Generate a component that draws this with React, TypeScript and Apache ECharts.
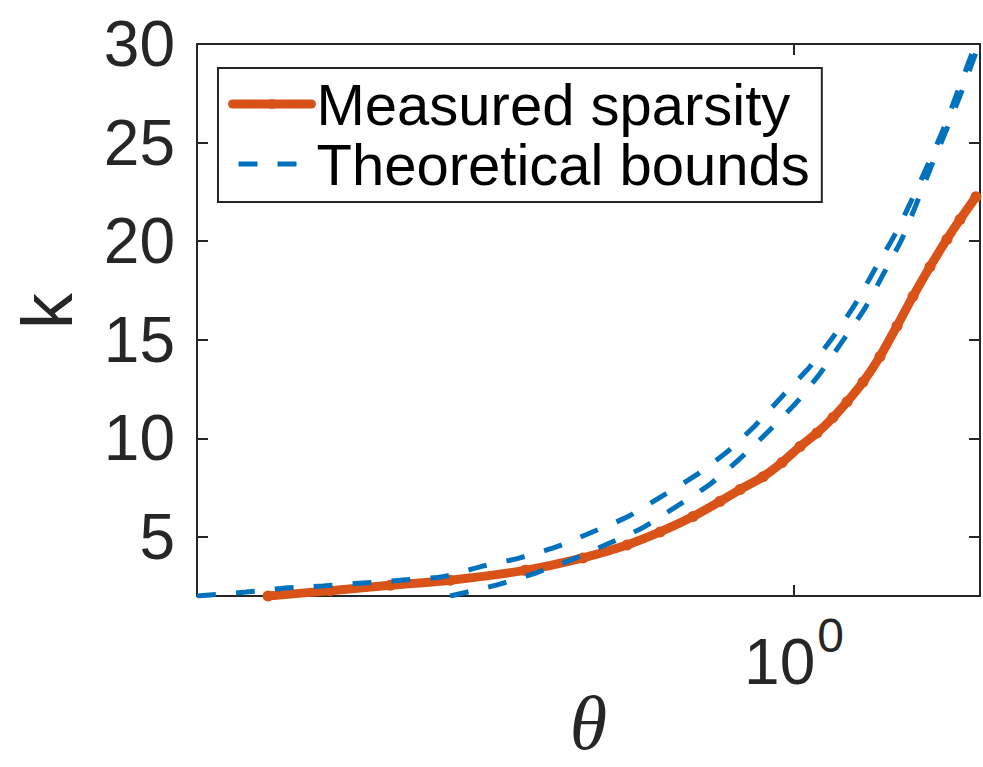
import React, { useEffect, useRef } from 'react';
import * as echarts from 'echarts';

// Measured sparsity (orange, solid with dots)
const thetaMeasured = [0.1409, 0.1775, 0.2220, 0.2776, 0.3670, 0.4555, 0.5368, 0.6071, 0.6864, 0.7590, 0.8177, 0.8909, 0.9563, 1.0226, 1.0895, 1.1563, 1.2187, 1.2933, 1.3778, 1.4681, 1.5582, 1.6600, 1.7684, 1.8565, 1.9700];
const kMeasured = [2.0, 2.27, 2.54, 2.8, 3.3, 3.93, 4.59, 5.25, 6.03, 6.8, 7.4, 8.05, 8.77, 9.58, 10.27, 11.05, 11.85, 12.85, 14.15, 15.7, 17.2, 18.7, 20.1, 21.1, 22.25];

// Theoretical bound, upper dashed curve
const thetaBoundA = [0.1081, 0.1298, 0.1501, 0.1729, 0.2008, 0.2330, 0.2704, 0.3103, 0.3575, 0.4135, 0.4729, 0.5388, 0.6116, 0.6942, 0.7818, 0.8679, 0.9634, 1.0614, 1.1605, 1.2598, 1.3524, 1.4572, 1.5520, 1.6473, 1.7486, 1.8425, 1.9409, 1.9775];
const kBoundA = [2.0, 2.2, 2.41, 2.51, 2.66, 2.81, 2.98, 3.48, 3.91, 4.5, 5.26, 6.03, 7.07, 8.13, 9.35, 10.69, 12.23, 13.63, 15.2, 16.87, 18.59, 20.34, 22.11, 23.88, 25.76, 27.63, 29.5, 30.0];

// Theoretical bound, lower dashed curve
const thetaBoundB = [0.2776, 0.2870, 0.3319, 0.3838, 0.4389, 0.5076, 0.5696, 0.6465, 0.7312, 0.8177, 0.9111, 1.0112, 1.1057, 1.2003, 1.3028, 1.3983, 1.4952, 1.5812, 1.6661, 1.7683, 1.8631, 1.9631, 2.0];
const kBoundB = [2.0, 2.1, 2.58, 3.19, 3.87, 4.74, 5.47, 6.56, 7.67, 8.97, 10.38, 11.85, 13.35, 14.97, 16.6, 18.39, 20.11, 21.96, 23.76, 25.71, 27.5, 29.43, 30.0];

const yTicks = [5, 10, 15, 20, 25, 30];
const xTicks = [1];
const seriesNames = ['Measured sparsity', 'Theoretical bounds'];

const X_MIN = 0.1081;
const X_MAX = 2.0;
const Y_MIN = 2;
const Y_MAX = 30;

const zip = (xs: number[], ys: number[]) => xs.map((x, i) => [x, ys[i]]);

export default function App() {
  const ref = useRef<HTMLDivElement>(null);

  useEffect(() => {
    if (!ref.current) return;
    const chart = echarts.init(ref.current, null, { renderer: 'svg' });
    const AX = '#262626';
    const ORANGE = '#D95319';
    const BLUE = '#0072BD';
    const FONT = 'Liberation Sans';

    const axisLine = { show: true, onZero: false, lineStyle: { color: AX, width: 2 } };
    const axisTick = { show: true, inside: true, length: 11, lineStyle: { color: AX, width: 2 } };

    const option: any = {
      animation: false,
      backgroundColor: '#ffffff',
      grid: { left: 197, top: 44, width: 783, height: 552, show: false, containLabel: false, outerBoundsMode: 'none' },
      legend: {
        left: 218,
        top: 68,
        orient: 'vertical',
        itemWidth: 79,
        itemHeight: 12,
        itemGap: 0,
        padding: [6, 12, 8, 10],
        borderColor: AX,
        borderWidth: 2,
        borderRadius: 0,
        backgroundColor: '#ffffff',
        lineStyle: { dashOffset: 33 },
        textStyle: { fontSize: 58, fontFamily: FONT, color: '#000000', lineHeight: 60 },
        data: [
          { name: seriesNames[0], lineStyle: { width: 9, color: ORANGE }, itemStyle: { color: ORANGE } },
          { name: seriesNames[1], lineStyle: { width: 5, color: BLUE, type: [19, 20], dashOffset: 33 } },
        ],
      },
      xAxis: [
        {
          type: 'log',
          logBase: 10,
          min: X_MIN,
          max: X_MAX,
          position: 'bottom',
          axisLine,
          axisTick: { ...axisTick, customValues: xTicks },
          axisLabel: {
            customValues: xTicks,
            margin: 34,
            color: AX,
            formatter: (v: number) => (Math.abs(v - 1) < 1e-9 ? '{a|10}{b|0}' : ''),
            rich: {
              a: { fontSize: 64, fontFamily: FONT, color: AX, lineHeight: 64, verticalAlign: 'middle' },
              b: { fontSize: 48, fontFamily: FONT, color: AX, lineHeight: 48, verticalAlign: 'middle', padding: [0, 0, 54, 2] },
            },
          },
          splitLine: { show: false },
          name: 'θ',
          nameLocation: 'middle',
          nameGap: 97,
          nameMoveOverlap: false,
          nameTextStyle: { fontSize: 76, lineHeight: 60, fontFamily: 'Liberation Serif', fontStyle: 'italic', color: AX },
        },
        {
          type: 'log',
          logBase: 10,
          min: X_MIN,
          max: X_MAX,
          position: 'top',
          axisLine,
          axisTick: { ...axisTick, customValues: xTicks },
          axisLabel: { show: false },
          splitLine: { show: false },
        },
      ],
      yAxis: [
        {
          type: 'value',
          min: Y_MIN,
          max: Y_MAX,
          position: 'left',
          axisLine,
          axisTick: { ...axisTick, customValues: yTicks },
          axisLabel: {
            customValues: yTicks,
            fontSize: 64,
            fontFamily: FONT,
            color: AX,
            margin: 22,
            padding: [0, 0, 6, 0],
          },
          splitLine: { show: false },
          name: 'k',
          nameLocation: 'middle',
          nameGap: 114,
          nameMoveOverlap: false,
          nameTextStyle: { fontSize: 72, fontFamily: FONT, color: AX, padding: [0, 0, 0, 18] },
        },
        {
          type: 'value',
          min: Y_MIN,
          max: Y_MAX,
          position: 'right',
          axisLine,
          axisTick: { ...axisTick, customValues: yTicks },
          axisLabel: { show: false },
          splitLine: { show: false },
        },
      ],
      series: [
        {
          name: seriesNames[0],
          type: 'line',
          xAxisIndex: 0,
          yAxisIndex: 0,
          data: zip(thetaMeasured, kMeasured),
          symbol: 'circle',
          symbolSize: 11,
          showSymbol: true,
          smooth: 0.25,
          lineStyle: { color: ORANGE, width: 9, cap: 'round', join: 'round' },
          itemStyle: { color: ORANGE },
          z: 2,
        },
        {
          name: seriesNames[1],
          type: 'line',
          xAxisIndex: 0,
          yAxisIndex: 0,
          data: zip(thetaBoundA, kBoundA),
          symbol: 'none',
          smooth: 0.2,
          lineStyle: { color: BLUE, width: 5, type: [19, 20] },
          itemStyle: { color: BLUE, opacity: 0 },
          z: 3,
        },
        {
          name: seriesNames[1],
          type: 'line',
          xAxisIndex: 0,
          yAxisIndex: 0,
          data: zip(thetaBoundB, kBoundB),
          symbol: 'none',
          smooth: 0.2,
          lineStyle: { color: BLUE, width: 5, type: [19, 20] },
          itemStyle: { color: BLUE, opacity: 0 },
          z: 3,
        },
      ],
    };

    chart.setOption(option);
    return () => chart.dispose();
  }, []);

  return (
    <div
      ref={ref}
      style={{ position: 'absolute', left: 0, top: 0, width: 983, height: 767, background: '#fff' }}
    />
  );
}
